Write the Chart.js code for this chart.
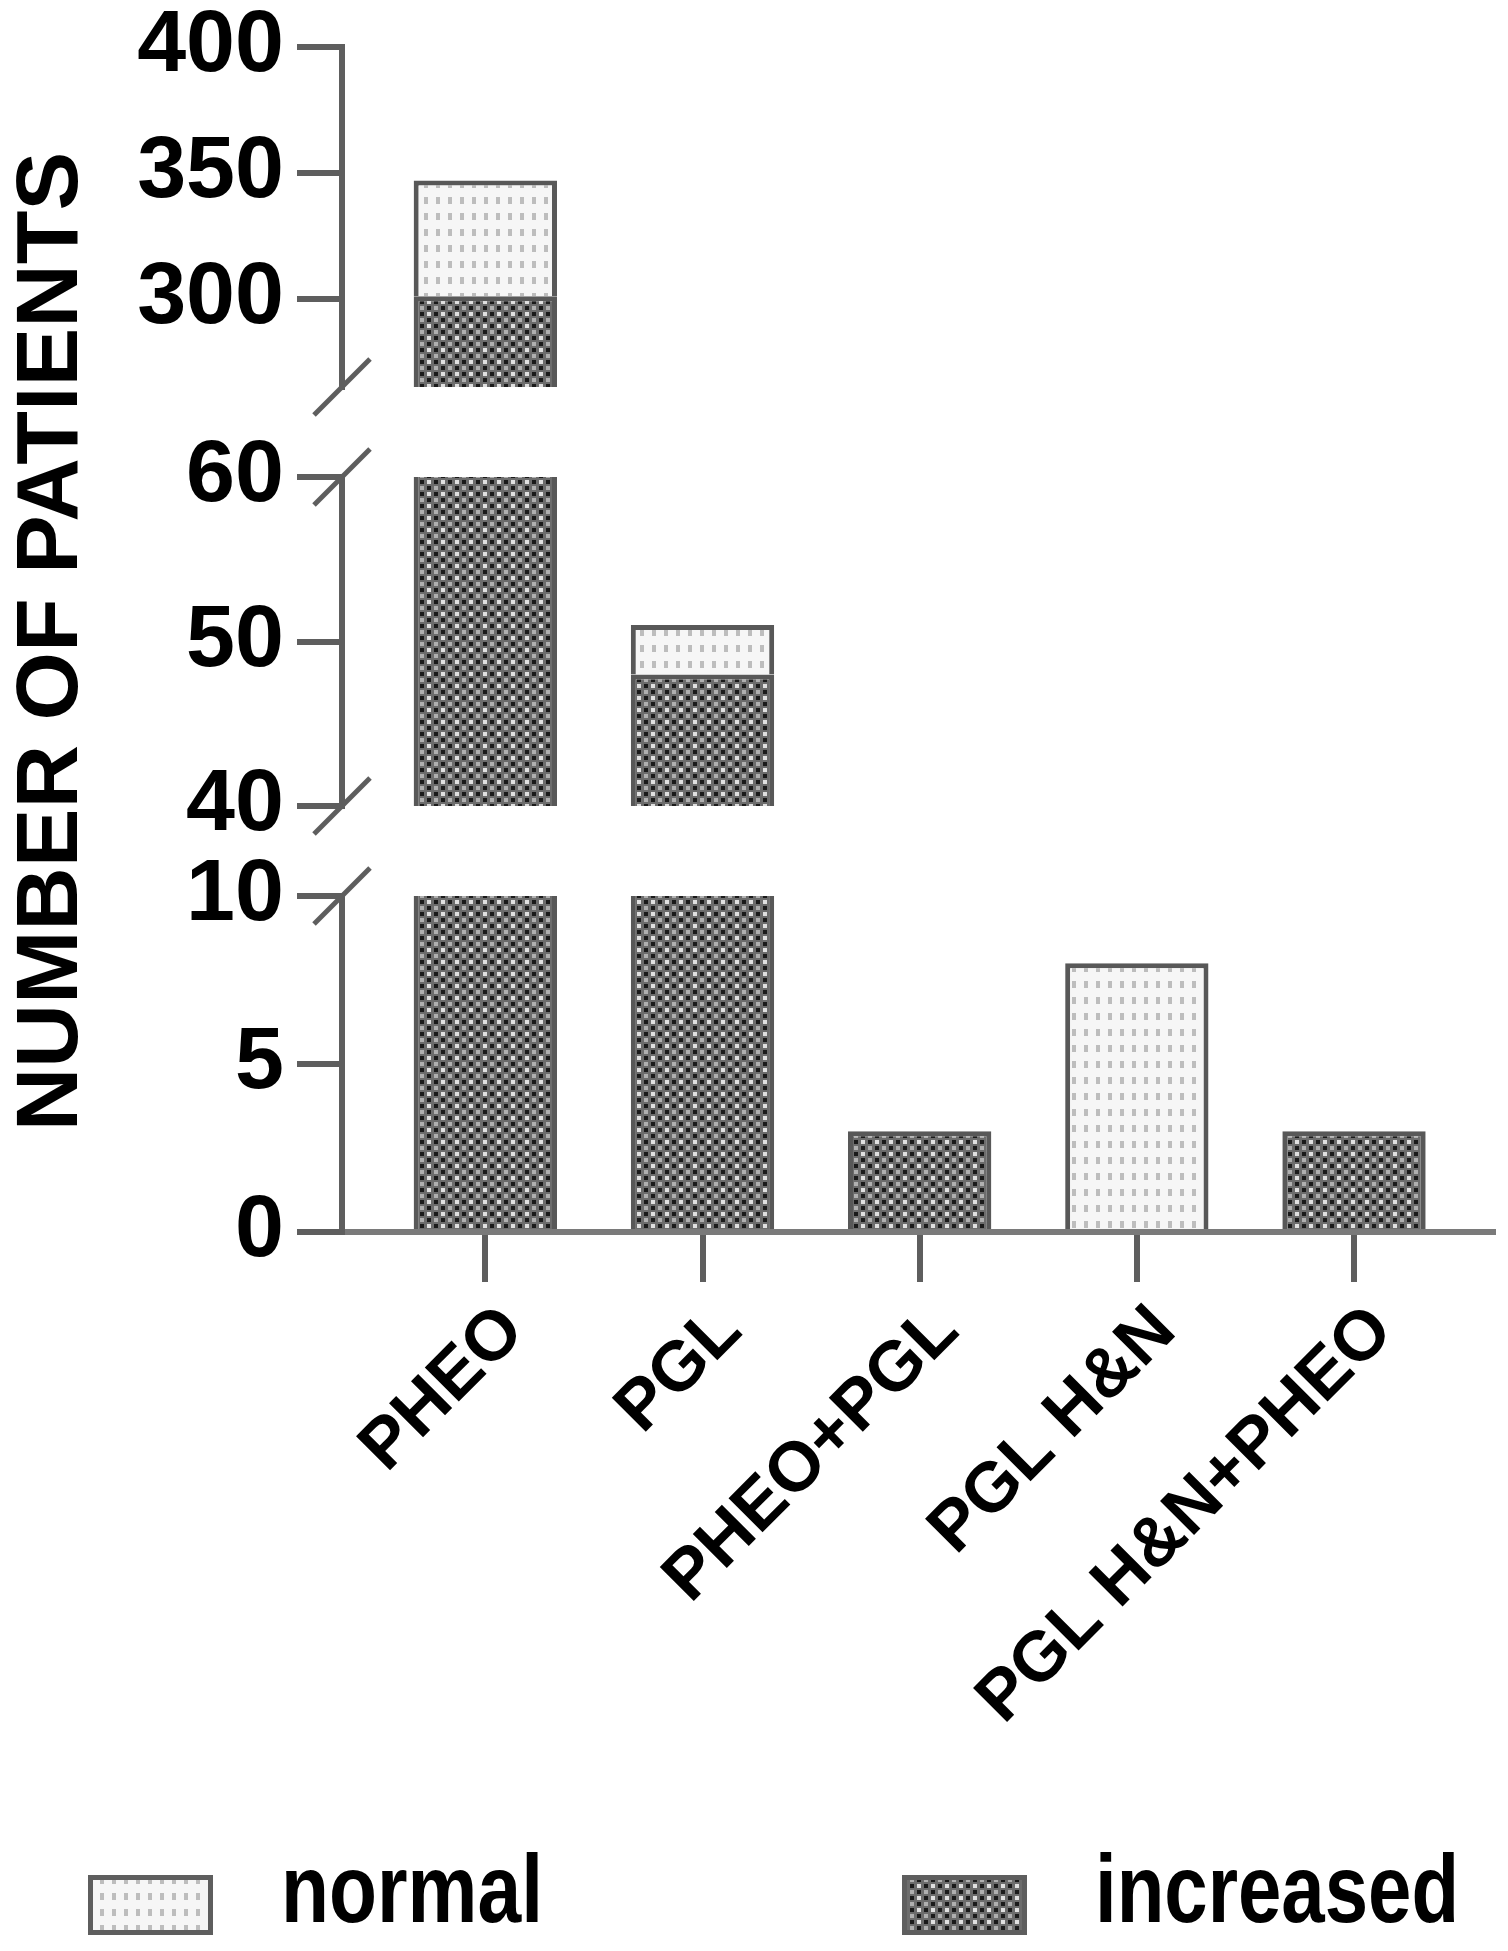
<!DOCTYPE html>
<html>
<head>
<meta charset="utf-8">
<script src="https://cdn.jsdelivr.net/npm/chart.js@4/dist/chart.umd.min.js"></script>
<style>
  html, body { margin: 0; padding: 0; background: #fff; }
  #wrap { width: 1508px; height: 1951px; position: relative; }
</style>
</head>
<body>
<div id="wrap"><canvas id="bar-chart"></canvas></div>
<script>
"use strict";

// values
var categories = ["PHEO", "PGL", "PHEO+PGL", "PGL H&N", "PGL H&N+PHEO"];
var increased = [301, 48, 3, 0, 3];
var normal = [46, 3, 0, 8, 0];
var topTicks = [300, 350, 400];
var midTicks = [40, 50, 60];
var lowTicks = [0, 5, 10];

var AXIS = "#5e5e5e";
var FONT = "'Liberation Sans', Arial, sans-serif";

Chart.defaults.font.family = FONT;
Chart.defaults.color = "#000";

var canvas = document.getElementById("bar-chart");
var ctx = canvas.getContext("2d");

function makePattern(w, h, base, marks) {
	var c = document.createElement("canvas");
	c.width = w; c.height = h;
	var g = c.getContext("2d");
	g.fillStyle = base;
	g.fillRect(0, 0, w, h);
	marks.forEach(function (m) {
		g.fillStyle = m[4];
		g.fillRect(m[0], m[1], m[2], m[3]);
	});
	return ctx.createPattern(c, "repeat");
}

// dark checker for "increased", light dots for "normal"
var darkFill = makePattern(14, 12, "#6c6c6c", [
	[0, 0, 4, 4, "#1a1a1a"], [7, 6, 4, 4, "#1a1a1a"],
	[7, 0, 4, 4, "#e0e0e0"], [0, 6, 4, 4, "#b0b0b0"]
]);
var lightFill = makePattern(12, 16, "#f6f6f6", [
	[4, 5, 4, 7, "#bdbdbd"]
]);

// broken y axis: three value ranges stacked with empty spacers
var segments = [
	{ id: "yTop", min: 265, max: 400, ticks: topTicks, weight: 340, order: 5 },
	{ id: "gap1", weight: 90, order: 4 },
	{ id: "yMid", min: 40, max: 60, ticks: midTicks, weight: 329, order: 3 },
	{ id: "gap2", weight: 90, order: 2 },
	{ id: "yLow", min: 0, max: 10, ticks: lowTicks, weight: 336, order: 1 }
];

function piece(lo, hi, seg, i) {
	var a = Math.max(lo, seg.min), b = Math.min(hi, seg.max);
	return { x: i, y: b > a ? [a, b] : null, cut: hi > seg.max };
}

var datasets = [];
segments.filter(function (s) { return s.ticks; }).forEach(function (seg) {
	datasets.push({
		label: "increased",
		yAxisID: seg.id,
		backgroundColor: darkFill,
		data: categories.map(function (c, i) { return piece(0, increased[i], seg, i); })
			.filter(function (p) { return p.y; })
	});
	datasets.push({
		label: "normal",
		yAxisID: seg.id,
		backgroundColor: lightFill,
		data: categories.map(function (c, i) { return piece(increased[i], increased[i] + normal[i], seg, i); })
			.filter(function (p) { return p.y; })
	});
});

var scales = {
	x: {
		type: "linear",
		min: -0.66,
		max: 4.64,
		offset: false,
		afterBuildTicks: function (sc) {
			sc.ticks = categories.map(function (c, i) { return { value: i }; });
		},
		afterFit: function (sc) {
			sc.height = 719;
			sc.paddingLeft = 0;
			sc.paddingRight = 0;
		},
		border: { display: true, color: "#7a7a7a", width: 6 },
		grid: { offset: false, drawOnChartArea: false, drawTicks: true, tickLength: 50, lineWidth: 6, color: AXIS },
		ticks: {
			autoSkip: false,
			minRotation: 45,
			maxRotation: 45,
			padding: 8,
			labelOffset: 28,
			color: "#000",
			font: { size: 70, weight: "bold" },
			callback: function (v) { return categories[v]; }
		}
	}
};

segments.forEach(function (s) {
	var sc = {
		type: "linear",
		axis: "y",
		position: "left",
		stack: "y",
		stackWeight: s.weight,
		weight: s.order,
		afterFit: function (scale) {
			scale.width = 342;
			scale.paddingTop = 0;
			scale.paddingBottom = 0;
		}
	};
	if (!s.ticks) {
		sc.grid = { display: false };
		sc.border = { display: false };
		sc.ticks = { display: false };
	} else {
		var tickList = s.ticks;
		sc.min = s.min;
		sc.max = s.max;
		sc.afterBuildTicks = function (scale) {
			scale.ticks = tickList.map(function (v) { return { value: v }; });
		};
		sc.border = { display: true, color: AXIS, width: 6 };
		sc.grid = { drawOnChartArea: false, drawTicks: true, tickLength: 45, lineWidth: 6, color: AXIS };
		sc.ticks = { padding: 13, color: "#000", font: { size: 88, weight: "bold" } };
	}
	if (s.id === "yMid") {
		sc.title = {
			display: true,
			text: "NUMBER OF PATIENTS",
			color: "#000",
			padding: 0,
			font: { size: 88, weight: "bold" }
		};
	}
	scales[s.id] = sc;
});

// diagonal marks at each end of the broken axis
var breakMarks = {
	id: "breakMarks",
	afterDraw: function (chart) {
		var c = chart.ctx;
		var x = chart.chartArea.left;
		var ends = [chart.scales.yTop.bottom, chart.scales.yMid.top, chart.scales.yMid.bottom, chart.scales.yLow.top];
		c.save();
		c.strokeStyle = AXIS;
		c.lineWidth = 5;
		ends.forEach(function (y) {
			c.beginPath();
			c.moveTo(x - 28, y + 28);
			c.lineTo(x + 28, y - 28);
			c.stroke();
		});
		c.restore();
	}
};

// legend laid out as in the figure: two items far apart at the bottom
var bottomLegend = {
	id: "bottomLegend",
	afterDraw: function (chart) {
		var c = chart.ctx;
		var items = [
			{ ds: chart.data.datasets[1], x: 88, w: 262 },
			{ ds: chart.data.datasets[0], x: 902, w: 364 }
		];
		var y = chart.height - 76;
		c.save();
		items.forEach(function (it) {
			c.fillStyle = it.ds.backgroundColor;
			c.fillRect(it.x, y, 125, 60);
			c.strokeStyle = AXIS;
			c.lineWidth = 5;
			c.strokeRect(it.x + 2.5, y + 2.5, 120, 55);
			c.fillStyle = "#000";
			c.font = "bold 96px " + FONT;
			c.textBaseline = "alphabetic";
			c.fillText(it.ds.label, it.x + 125 + 68, y + 47, it.w);
		});
		c.restore();
	}
};

new Chart(canvas, {
	type: "bar",
	data: { datasets: datasets },
	options: {
		responsive: true,
		maintainAspectRatio: false,
		animation: false,
		layout: { padding: { top: 47, right: 15, bottom: 0, left: 0 } },
		datasets: {
			bar: {
				grouped: false,
				barPercentage: 0.66,
				categoryPercentage: 1,
				borderColor: "#585858",
				borderSkipped: false,
				borderWidth: function (c) {
					var cut = c.raw && c.raw.cut;
					return { top: cut ? 0 : 5, left: 5, right: 5, bottom: 0 };
				}
			}
		},
		plugins: {
			legend: { display: false },
			tooltip: { enabled: false }
		},
		scales: scales
	},
	plugins: [breakMarks, bottomLegend]
});
</script>
</body>
</html>
